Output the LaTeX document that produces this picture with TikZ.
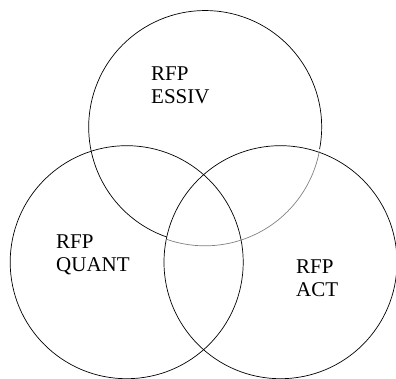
\documentclass[tikz,border=0pt]{standalone}
\usepackage{fontspec}
\setmainfont{Liberation Serif}
\begin{document}
\begin{tikzpicture}[x=1pt,y=1pt,
  ring/.style={circle, draw=black, line width=0.7pt, minimum size=233pt, inner sep=0pt},
  label/.style={anchor=north west, inner sep=0pt, align=left, font=\fontsize{21}{23}\selectfont},
  faint/.style={draw=black!50, line width=0.7pt}]
\useasboundingbox (0,0) rectangle (396,379);
\node[ring, draw=none] (essiv) at (204.5,250.2) {};
\node[ring] (quant) at (126.7,116.8) {};
\node[ring] (act) at (280.5,116.8) {};
\draw[line width=0.7pt] (essiv.-10.9) arc[start angle=-10.9, end angle=250.7, radius=116.5];
\draw[faint] (essiv.-109.3) arc[start angle=-109.3, end angle=-10.9, radius=116.5];
\node[label] (tessiv) at (151,312.3) {RFP\\ESSIV};
\node[label] (tquant) at (56,144) {RFP\\QUANT};
\node[label] (tact) at (296,119) {RFP\\ACT};
\end{tikzpicture}
\end{document}
